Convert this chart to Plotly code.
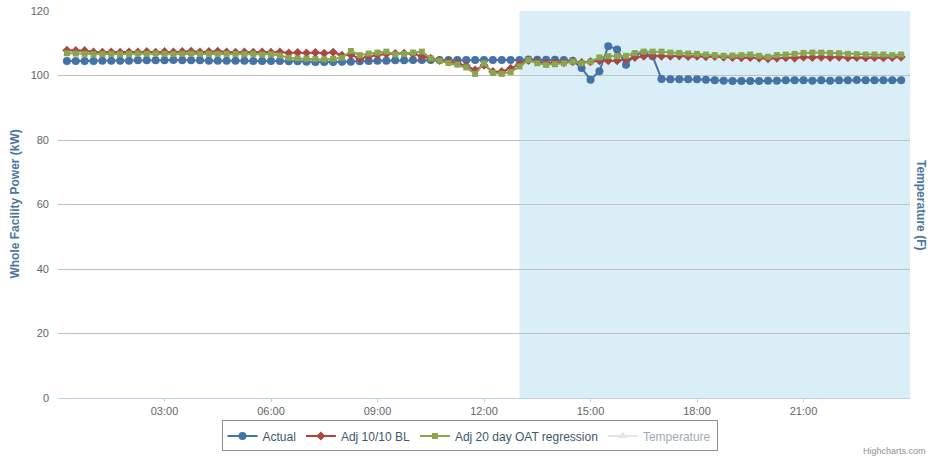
import pandas as pd
import plotly.graph_objects as go

day = "2013-10-10"
times = pd.date_range(f"{day} 00:15", f"{day} 23:45", freq="15min")

actual = [
    104.5, 104.5, 104.5, 104.5, 104.6, 104.6, 104.6, 104.6, 104.7, 104.7, 104.7, 104.7, 104.8, 104.7, 104.7, 104.7, 104.6, 104.6, 104.6,
    104.6, 104.6, 104.5, 104.5, 104.5, 104.5, 104.4, 104.4, 104.3, 104.2, 104.2, 104.2,
    104.3, 104.3, 104.4, 104.5, 104.6, 104.6, 104.7,
    104.7, 104.8, 104.8, 104.8, 104.8, 104.8, 104.8, 104.8, 104.8, 104.8, 104.8, 104.8, 104.8, 104.8, 105.0,
    104.9, 104.9, 104.9, 104.8, 104.6, 102.3, 98.7, 101.3, 109.1, 108.1, 103.3, 106.5, 107.0, 106.0, 98.9,
    98.8, 98.8, 98.8, 98.8, 98.7, 98.5, 98.4, 98.3, 98.3, 98.3, 98.3, 98.4, 98.4, 98.5, 98.5, 98.5, 98.4, 98.5, 98.4, 98.5, 98.5, 98.6, 98.5, 98.5, 98.5, 98.5, 98.5,
]

adj_bl = [
    107.8, 107.7, 107.7, 107.3, 107.2, 107.3, 107.2, 107.3, 107.3, 107.4, 107.2, 107.4, 107.3, 107.4, 107.5, 107.3, 107.4, 107.5, 107.3,
    107.2, 107.3, 107.2, 107.3, 107.2, 107.3, 107.0, 107.1, 107.0, 107.1, 106.9, 107.2,
    106.3, 106.4, 105.2, 105.9, 106.4, 106.7, 106.8,
    106.9, 106.7, 106.0, 105.3, 104.7, 104.3, 103.8, 103.0, 101.7, 103.2, 101.2, 101.2, 102.2, 103.5, 104.7,
    104.3, 103.8, 104.0, 104.0, 104.3, 104.0, 104.3, 104.6, 104.6, 104.6, 105.0, 105.6, 106.0, 106.1, 106.0,
    106.0, 106.1, 105.9, 106.0, 105.8, 105.9, 105.7, 105.6, 105.5, 105.6, 105.4, 105.2, 105.4, 105.5, 105.4, 105.7, 105.6, 105.7, 105.6, 105.7, 105.5, 105.6, 105.5, 105.6, 105.5, 105.6, 105.7,
]

adj_oat = [
    106.9, 106.8, 106.7, 106.6, 106.6, 106.7, 106.6, 106.7, 106.8, 106.7, 106.8, 106.7, 106.6, 106.7, 106.8, 106.7, 106.7, 106.7, 106.7,
    106.7, 106.6, 106.7, 106.5, 106.6, 106.2, 105.5, 105.3, 105.2, 105.1, 105.0, 105.2,
    105.5, 107.6, 106.3, 106.8, 107.1, 107.4, 106.5,
    106.7, 107.1, 107.4, 105.3, 104.6, 103.9, 103.4, 102.5, 100.5, 103.8, 100.8, 100.5, 101.1, 102.8, 104.8,
    103.8, 103.3, 103.5, 103.8, 104.3, 103.8, 104.3, 105.6, 106.0, 106.0, 106.1, 106.9, 107.4, 107.4, 107.4,
    107.1, 107.0, 106.8, 106.7, 106.5, 106.3, 106.1, 106.2, 106.3, 106.5, 106.1, 105.8, 106.3, 106.5, 106.7, 107.0, 107.1, 107.1, 107.0, 106.9, 106.7, 106.6, 106.5, 106.5, 106.5, 106.3, 106.5,
]

temperature = [None]  # hidden series (shown only in the legend)

tick_labels = ["03:00", "06:00", "09:00", "12:00", "15:00", "18:00", "21:00"]
y_ticks = [0, 20, 40, 60, 80, 100, 120]
band_start = "13:00"

assert len(actual) == len(adj_bl) == len(adj_oat) == len(times)

FONT = "Liberation Sans, Arial, sans-serif"

fig = go.Figure()
fig.add_trace(go.Scatter(
    x=times, y=actual, name="Actual", mode="lines+markers",
    line=dict(color="#4572A7", width=2),
    marker=dict(symbol="circle", size=8, color="#4572A7"),
))
fig.add_trace(go.Scatter(
    x=times, y=adj_bl, name="Adj 10/10 BL", mode="lines+markers",
    line=dict(color="#AA4643", width=2),
    marker=dict(symbol="diamond", size=7, color="#AA4643"),
))
fig.add_trace(go.Scatter(
    x=times, y=adj_oat, name="Adj 20 day OAT regression", mode="lines+markers",
    line=dict(color="#89A54E", width=2),
    marker=dict(symbol="square", size=6, color="#89A54E"),
))
fig.add_trace(go.Scatter(
    x=times[:len(temperature)], y=temperature, name="Temperature", mode="lines+markers",
    line=dict(color="#CCCCCC", width=2),
    marker=dict(symbol="triangle-up", size=8, color="#CCCCCC"),
    visible="legendonly", yaxis="y2",
))

fig.add_shape(
    type="rect", xref="x", yref="paper",
    x0=f"{day} {band_start}", x1=f"{day} 23:59:59", y0=0, y1=1,
    fillcolor="rgba(68,170,213,0.2)", line=dict(width=0), layer="below",
)

fig.update_layout(
    width=933, height=460,
    margin=dict(l=58, r=23, t=11, b=62, autoexpand=False),
    paper_bgcolor="white", plot_bgcolor="white",
    font=dict(family=FONT, size=11, color="#666666"),
    showlegend=True,
    legend=dict(
        orientation="h", x=0.483, xanchor="center", y=-0.058, yanchor="top",
        bordercolor="#909090", borderwidth=1, bgcolor="rgba(0,0,0,0)",
        font=dict(family=FONT, size=12, color="#3E576F"),
        itemwidth=30,
    ),
    xaxis=dict(
        type="date", automargin=False,
        range=[f"{day} 00:00", f"{day} 23:59:59"],
        tickvals=[f"{day} {t}" for t in tick_labels],
        ticktext=tick_labels,
        showgrid=False, zeroline=False,
        showline=True, linecolor="#C0D0E0", linewidth=1,
        ticks="outside", ticklen=3, tickcolor="#C0D0E0",
        tickfont=dict(family=FONT, size=11, color="#666666"),
    ),
    yaxis=dict(
        range=[0, 120], tickvals=y_ticks, automargin=False,
        showgrid=True, gridcolor="#C0C0C0", gridwidth=1,
        zeroline=False, showline=False,
        ticks="", ticklabelstandoff=8,
        tickfont=dict(family=FONT, size=11, color="#666666"),
    ),
    yaxis2=dict(
        overlaying="y", side="right", showgrid=False, showticklabels=False,
        zeroline=False, range=[0, 120], automargin=False,
    ),
    annotations=[
        dict(text="<b>Whole Facility Power (kW)</b>", xref="paper", yref="paper",
             x=-0.0516, y=0.5, xanchor="center", yanchor="middle", textangle=-90,
             showarrow=False, font=dict(family=FONT, size=12, color="#4d759e")),
        dict(text="<b>Temperature (F)</b>", xref="paper", yref="paper",
             x=1.0135, y=0.5, xanchor="center", yanchor="middle", textangle=90,
             showarrow=False, font=dict(family=FONT, size=12, color="#4d759e")),
        dict(text="Highcharts.com", xref="paper", yref="paper",
             x=1.021, y=-0.137, xanchor="right", yanchor="middle",
             showarrow=False, font=dict(family=FONT, size=9, color="#909090")),
    ],
)

fig.write_html("out.html", config={"displayModeBar": False},
               post_script="document.body.style.margin='0';")
